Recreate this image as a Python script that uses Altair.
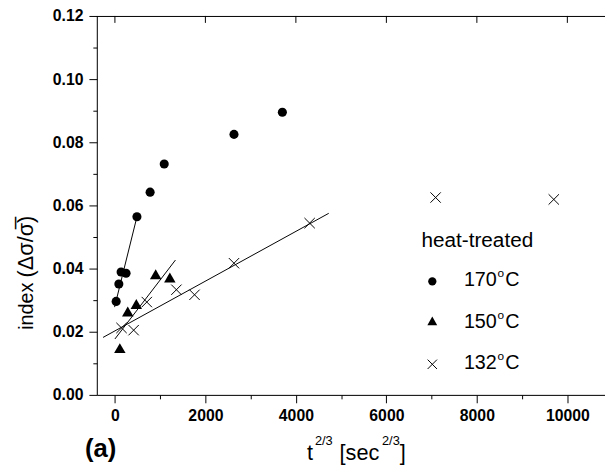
import altair as alt
import pandas as pd

# ---- data ----
c170_x = [28, 87, 137, 246, 487, 778, 1090, 2632, 3701]
c170_y = [0.0296, 0.0351, 0.0389, 0.0385, 0.0564, 0.0642, 0.0731, 0.0825, 0.0895]
c150_x = [109, 284, 473, 901, 1214]
c150_y = [0.0148, 0.0264, 0.0288, 0.0382, 0.0372]
c132_x = [146, 414, 705, 1359, 1760, 2632, 4304, 7088, 9700]
c132_y = [0.0212, 0.0205, 0.0294, 0.0333, 0.0317, 0.0417, 0.0544, 0.0625, 0.0619]

fit170_x = [-7, 487]
fit170_y = [0.0278, 0.0564]
fit150_x = [0, 1338]
fit150_y = [0.0177, 0.0427]
fit132_x = [-262, 4726]
fit132_y = [0.0182, 0.0575]

x_ticks = [0, 1000, 2000, 3000, 4000, 5000, 6000, 7000, 8000, 9000, 10000]
x_major = [0, 2000, 4000, 6000, 8000, 10000]
y_ticks = [0.00, 0.01, 0.02, 0.03, 0.04, 0.05, 0.06, 0.07, 0.08, 0.09, 0.10, 0.11, 0.12]
x_domain = [-400, 10832]
y_domain = [0, 0.12]

legend_title = "heat-treated"
legend_labels = ["170", "150", "132"]

W, H = 515, 384
FONT = "Liberation Sans"

pts170 = pd.DataFrame({"x": c170_x, "y": c170_y})
pts150 = pd.DataFrame({"x": c150_x, "y": c150_y})
pts132 = pd.DataFrame({"x": c132_x, "y": c132_y})
fits = pd.DataFrame({
    "x": fit170_x + fit150_x + fit132_x,
    "y": fit170_y + fit150_y + fit132_y,
    "g": ["170"] * 2 + ["150"] * 2 + ["132"] * 2,
})
top_ticks = pd.DataFrame({"x": x_major})

xs = alt.Scale(domain=x_domain, nice=False, zero=False)
ys = alt.Scale(domain=y_domain, nice=False, zero=False)

y_axis = alt.Axis(
    values=y_ticks, format=".2f", title=None, grid=False,
    labelExpr="round(datum.value*100) % 2 === 0 ? datum.label : ''",
    tickSize={"condition": {"test": "round(datum.value*100) % 2 === 0", "value": 8}, "value": 4},
    labelFont=FONT, labelFontWeight="bold", labelFontSize=16, labelColor="black",
    labelPadding=6, domainColor="black", tickColor="black", tickWidth=1, domainWidth=1,
)
x_axis_bottom = alt.Axis(
    values=x_ticks, format="d", title=None, grid=False, orient="bottom",
    labelExpr="datum.value % 2000 === 0 ? datum.label : ''",
    tickSize={"condition": {"test": "datum.value % 2000 === 0", "value": 8}, "value": 4},
    labelFont=FONT, labelFontWeight="bold", labelFontSize=16, labelColor="black",
    labelPadding=5, domainColor="black", tickColor="black", tickWidth=1, domainWidth=1,
    labelFlush=False, labelOverlap=False,
)

fit_layer = alt.Chart(fits).mark_line(color="black", strokeWidth=1).encode(
    x=alt.X("x:Q", scale=xs, axis=x_axis_bottom),
    y=alt.Y("y:Q", scale=ys, axis=y_axis),
    detail="g:N",
)
circ = alt.Chart(pts170).mark_point(shape="circle", filled=True, color="black", size=85, opacity=1).encode(
    x=alt.X("x:Q", scale=xs, axis=x_axis_bottom),
    y=alt.Y("y:Q", scale=ys, axis=y_axis),
)
tri = alt.Chart(pts150).mark_point(shape="triangle-up", filled=True, color="black", size=135, opacity=1).encode(
    x=alt.X("x:Q", scale=xs, axis=x_axis_bottom),
    y=alt.Y("y:Q", scale=ys, axis=y_axis),
)
XPATH = "M-1,-1L1,1M-1,1L1,-1"
crs = alt.Chart(pts132).mark_point(shape=XPATH, filled=False, color="black", size=110, strokeWidth=1, opacity=1).encode(
    x=alt.X("x:Q", scale=xs, axis=x_axis_bottom),
    y=alt.Y("y:Q", scale=ys, axis=y_axis),
)
# inward ticks on the top frame, placed through the x scale
top_tick_layer = alt.Chart(top_ticks).mark_rule(color="black", strokeWidth=1).encode(
    x=alt.X("x:Q", scale=xs, axis=x_axis_bottom),
    y=alt.value(0), y2=alt.value(7),
)

one = pd.DataFrame({"a": [0]})

# top frame line
top_line = alt.Chart(one).mark_rule(color="black", strokeWidth=1).encode(
    x=alt.value(0), x2=alt.value(W), y=alt.value(0.5),
)


def txt(s, x, y, size, weight="normal", align="left", angle=0, baseline="alphabetic"):
    return alt.Chart(one).mark_text(
        text=s, font=FONT, fontSize=size, fontWeight=weight, align=align,
        baseline=baseline, angle=angle, color="black",
    ).encode(x=alt.value(x), y=alt.value(y))


def sym(shape, x, y, size, filled=True):
    return alt.Chart(one).mark_point(
        shape=shape, filled=filled, color="black", size=size, opacity=1, strokeWidth=1,
    ).encode(x=alt.value(x), y=alt.value(y))


# legend (drawn in the plot area like the original)
leg = [
    txt(legend_title, 329, 234, 21),
    sym("circle", 340, 269, 70),
    sym("triangle-up", 340, 309, 100),
    sym(XPATH, 340, 353, 90, filled=False),
]
for lab, yb in zip(legend_labels, [274, 316, 358]):
    leg.append(txt(lab, 372, yb, 20))
    leg.append(txt("o", 406, yb - 9, 12))
    leg.append(txt("C", 414, yb, 20))

# axis titles and panel label
ann = [
    txt("(a)", -12, 447, 26, weight="bold"),
    txt("t", 213, 450, 22),
    txt("2/3", 221, 435, 13),
    txt("[sec", 246, 450, 22),
    txt("2/3", 289, 435, 13),
    txt("]", 307, 450, 22),
    txt("index", -65, 318, 20, angle=270),
    txt("(\u0394\u03c3/\u03c3\u0305)", -65, 265, 22, angle=270),
]

chart = alt.layer(fit_layer, circ, tri, crs, top_tick_layer, top_line, *leg, *ann).properties(
    width=W, height=H,
    autosize=alt.AutoSizeParams(type="none"),
    padding={"left": 90, "top": 5, "right": 0, "bottom": 70},
).configure_view(stroke=None).configure(background="white")

chart.save("out.html", embed_options={"renderer": "svg", "actions": False})
